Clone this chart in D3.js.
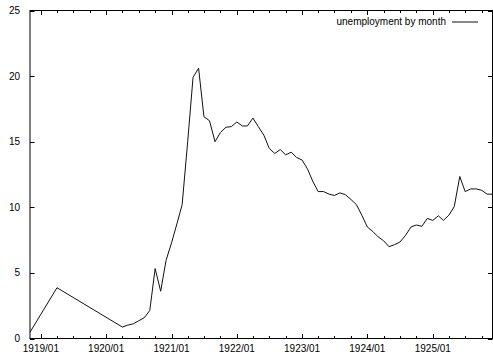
<!DOCTYPE html>
<html>
<head>
<meta charset="utf-8">
<script src="https://cdn.jsdelivr.net/npm/d3@7"></script>
<style>
  html, body { margin: 0; padding: 0; background: #fff; }
  svg { display: block; }
  text { font-family: "Liberation Sans", Arial, Helvetica, sans-serif; font-size: 10px; fill: #000; }
</style>
</head>
<body>
<svg id="chart" width="493" height="355"></svg>
<script>
// ---- data ----
const months = [
  "1918/11","1919/04","1920/04","1920/05","1920/06","1920/07","1920/08","1920/09","1920/10","1920/11","1920/12",
  "1921/01","1921/02","1921/03","1921/04","1921/05","1921/06","1921/07","1921/08","1921/09","1921/10","1921/11","1921/12",
  "1922/01","1922/02","1922/03","1922/04","1922/05","1922/06","1922/07","1922/08","1922/09","1922/10","1922/11","1922/12",
  "1923/01","1923/02","1923/03","1923/04","1923/05","1923/06","1923/07","1923/08","1923/09","1923/10","1923/11","1923/12",
  "1924/01","1924/02","1924/03","1924/04","1924/05","1924/06","1924/07","1924/08","1924/09","1924/10","1924/11","1924/12",
  "1925/01","1925/02","1925/03","1925/04","1925/05","1925/06","1925/07","1925/08","1925/09","1925/10","1925/11","1925/12"
];
const unemployment = [
  0.48, 3.87, 0.87, 1.02, 1.12, 1.35, 1.58, 2.14, 5.33, 3.6, 5.96,
  7.3, 8.8, 10.2, 15.0, 19.9, 20.6, 16.9, 16.6, 15.0, 15.7, 16.1, 16.15,
  16.5, 16.2, 16.2, 16.8, 16.15, 15.5, 14.5, 14.1, 14.4, 14.0, 14.2, 13.8,
  13.6, 12.9, 12.0, 11.2, 11.2, 11.0, 10.9, 11.1, 10.95, 10.6, 10.2, 9.4,
  8.5, 8.15, 7.75, 7.45, 7.0, 7.15, 7.35, 7.85, 8.5, 8.65, 8.55, 9.15,
  9.0, 9.35, 9.0, 9.4, 10.05, 12.35, 11.2, 11.4, 11.4, 11.3, 11.0, 11.0
];
const yTicks = [0, 5, 10, 15, 20, 25];
const xTickLabels = ["1919/01","1920/01","1921/01","1922/01","1923/01","1924/01","1925/01"];
const legendLabel = "unemployment by month";

// ---- layout ----
const svg = d3.select("#chart");
const L = 30, R = 492.5, T = 10.5, B = 338.5;
const parse = d3.utcParse("%Y/%m");
const data = months.map((m, i) => ({ date: parse(m), value: unemployment[i] }));

const x = d3.scaleUtc()
  .domain([parse(months[0]), parse(months[months.length - 1])])
  .range([L, R]);
const y = d3.scaleLinear().domain([0, 25]).range([B, T]);

const g = svg.append("g");

// minor ticks (quarterly) bottom & top
const minorDates = d3.utcMonth.every(3).range(x.domain()[0], d3.utcDay.offset(x.domain()[1], 1))
  .filter(d => d.getUTCMonth() !== 0);
const majorDates = xTickLabels.map(parse);

const tickG = g.append("g").attr("stroke", "#000").attr("stroke-width", 1);
minorDates.forEach(d => {
  const px = Math.round(x(d)) + 0.5;
  tickG.append("line").attr("x1", px).attr("x2", px).attr("y1", B).attr("y2", B - 2.5);
  tickG.append("line").attr("x1", px).attr("x2", px).attr("y1", T).attr("y2", T + 2.5);
});
majorDates.forEach(d => {
  const px = Math.round(x(d)) + 0.5;
  tickG.append("line").attr("x1", px).attr("x2", px).attr("y1", B).attr("y2", B - 4.5);
  tickG.append("line").attr("x1", px).attr("x2", px).attr("y1", T).attr("y2", T + 4.5);
});
yTicks.forEach(v => {
  const py = Math.round(y(v)) + 0.5;
  tickG.append("line").attr("x1", L).attr("x2", L + 4.5).attr("y1", py).attr("y2", py);
  tickG.append("line").attr("x1", R).attr("x2", R - 4.5).attr("y1", py).attr("y2", py);
});

// tick labels
g.append("g").selectAll("text").data(majorDates).join("text")
  .attr("x", d => x(d))
  .attr("y", B + 13)
  .attr("text-anchor", "middle")
  .text((d, i) => xTickLabels[i]);

g.append("g").selectAll("text").data(yTicks).join("text")
  .attr("x", L - 10)
  .attr("y", d => y(d))
  .attr("dy", "0.35em")
  .attr("text-anchor", "end")
  .text(d => d);

// data line
const line = d3.line().x(d => x(d.date)).y(d => y(d.value));
g.append("path")
  .datum(data)
  .attr("fill", "none")
  .attr("stroke", "#111")
  .attr("stroke-width", 1)
  .attr("stroke-linejoin", "miter")
  .attr("d", line);

// frame
g.append("rect")
  .attr("x", L).attr("y", T)
  .attr("width", R - L).attr("height", B - T)
  .attr("fill", "none").attr("stroke", "#000").attr("stroke-width", 1);

// legend
g.append("text")
  .attr("x", 446).attr("y", 25)
  .attr("text-anchor", "end")
  .text(legendLabel);
g.append("line")
  .attr("x1", 452).attr("x2", 478)
  .attr("y1", 22).attr("y2", 22)
  .attr("stroke", "#111").attr("stroke-width", 1);
</script>
</body>
</html>
